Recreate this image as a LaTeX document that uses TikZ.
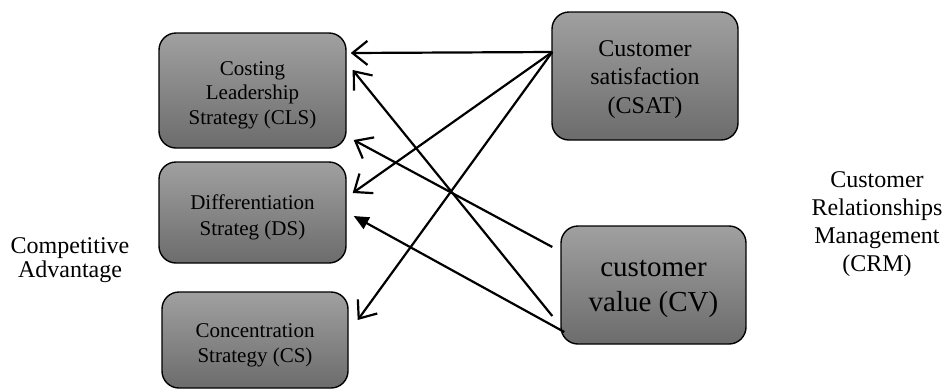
\documentclass[tikz,border=0pt]{standalone}
\usepackage{fontspec}
\setmainfont{Liberation Serif}
\usetikzlibrary{arrows.meta,calc}
\definecolor{boxtop}{RGB}{160,160,160}
\definecolor{boxbot}{RGB}{108,108,108}
\begin{document}
\begin{tikzpicture}[x=1pt,y=-1pt,
  box/.style={draw=black, line width=1.4pt, rounded corners=17pt,
    top color=boxtop, bottom color=boxbot, inner sep=0pt},
  txt/.style={align=center, inner sep=0pt, text=black},
  openarr/.style={line width=2.2pt, -{Straight Barb[length=15pt,width=24pt,line width=2.2pt]}},
  fillarr/.style={line width=2.2pt, -{Triangle[length=15pt,width=13pt]}},
  lbl/.style={align=center, inner sep=0pt}]
\useasboundingbox (0,0) rectangle (945,389);

\node[box, minimum width=187pt, minimum height=115pt] (CLS) at (252.5,90.5) {};
\node[txt, font=\fontsize{21}{24.5}\selectfont] (CLSt) at ($(CLS.center)+(0,4.5)$)
  {Costing\\Leadership\\Strategy (CLS)};
\node[box, minimum width=187pt, minimum height=101pt] (DS) at (252.5,212.5) {};
\node[txt, font=\fontsize{21}{26}\selectfont] (DSt) at ($(DS.center)+(0,5)$)
  {Differentiation\\Strateg (DS)};
\node[box, minimum width=186pt, minimum height=96pt] (CS) at (255,340) {};
\node[txt, font=\fontsize{21}{25}\selectfont] (CSt) at ($(CS.center)+(0,5)$)
  {Concentration\\Strategy (CS)};
\node[box, minimum width=186pt, minimum height=128pt] (CSAT) at (645,76) {};
\node[txt, font=\fontsize{24}{28.5}\selectfont] (CSATt) at ($(CSAT.center)+(0,3.5)$)
  {Customer\\satisfaction\\(CSAT)};
\node[box, minimum width=185pt, minimum height=118pt] (CV) at (653.5,285) {};
\node[txt, font=\fontsize{29}{35}\selectfont] (CVt) at ($(CV.center)+(0,4)$)
  {customer\\value (CV)};

\node[lbl, font=\fontsize{24}{28}\selectfont] (CRM) at (877,224)
  {Customer\\Relationships\\Management\\(CRM)};
\node[lbl, font=\fontsize{24}{23.5}\selectfont] (CA) at (70,260)
  {Competitive\\Advantage};

\draw[openarr] ($(CSAT.west)+(1,-24)$) -- ($(CLS.east)+(4,-37.5)$);
\draw[openarr] ($(CSAT.west)+(1,-24)$) -- ($(DS.east)+(6,-19.5)$);
\draw[openarr] ($(CSAT.west)+(1,-24)$) -- ($(CS.east)+(9,-20)$);
\draw[openarr] ($(CV.west)+(-8,31)$) -- ($(CLS.east)+(6,-20.5)$);
\draw[openarr] ($(CV.west)+(-8,-38)$) -- ($(CLS.east)+(7,49.5)$);
\draw[fillarr] ($(CV.west)+(4,47)$) -- ($(DS.east)+(7,3.5)$);
\end{tikzpicture}
\end{document}
